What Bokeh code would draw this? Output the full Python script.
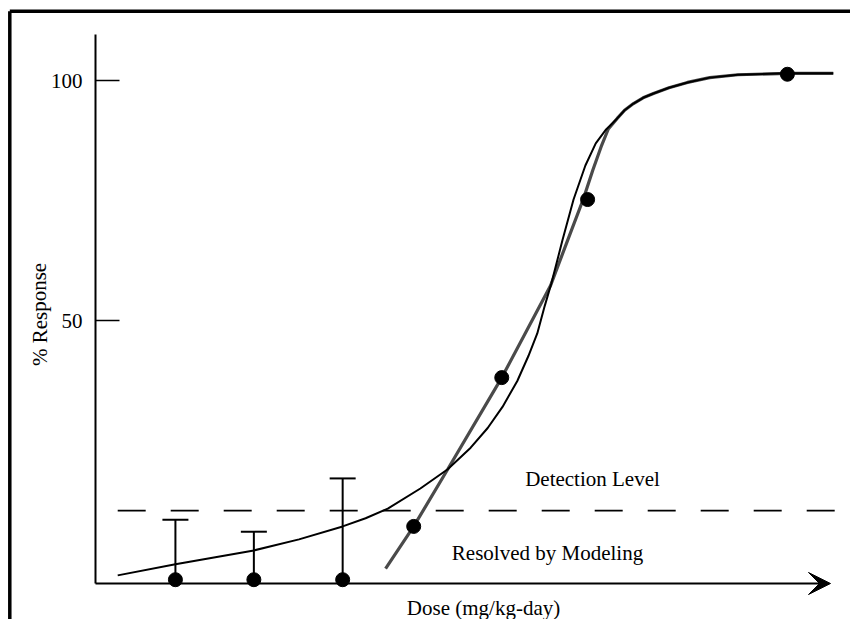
from bokeh.plotting import figure
from bokeh.models import Range1d, Arrow, VeeHead
from bokeh.core.properties import value
from bokeh.embed import file_html
from bokeh.resources import INLINE

# ---------------- data ----------------
dose_points = [10.8, 21.4, 33.4, 43.0, 54.9, 66.5, 93.5]
response_points = [-4.0, -4.0, -4.0, 7.1, 38.1, 75.2, 101.3]

bar_dose = [10.8, 21.4, 33.4]
bar_low = [-4.0, -4.0, -4.0]
bar_high = [8.5, 6.0, 17.1]

curve_dose = [3.0, 10.8, 21.4, 27.5, 33.4, 36.5, 39.5, 43.9, 47.6, 50.7, 53.0,
              55.0, 57.0, 58.5, 59.7, 60.7, 61.6, 63.1, 64.6, 66.2, 67.6, 69.0,
              70.5, 71.5, 72.7, 74.0, 75.4, 77.5, 80.0, 83.0, 86.8, 93.5, 99.7]
curve_resp = [-3.1, -0.8, 2.1, 4.4, 7.1, 8.8, 10.8, 15.0, 19.0, 23.5, 27.6,
              32.0, 37.4, 42.6, 47.3, 53.0, 57.7, 66.7, 75.2, 82.3, 86.9, 89.8,
              92.1, 93.8, 95.2, 96.4, 97.3, 98.5, 99.6, 100.6, 101.2, 101.5, 101.5]

model_dose = [39.2, 43.0, 47.6, 54.9, 61.5, 63.8, 65.9, 67.2, 68.4, 69.3, 70.5,
              71.5, 72.7, 74.0, 75.4, 77.5, 80.0, 83.0, 86.8, 93.5, 99.7]
model_resp = [-1.7, 7.1, 19.0, 38.1, 57.3, 66.7, 75.2, 81.3, 86.5, 89.9, 92.1,
              93.8, 95.2, 96.4, 97.3, 98.5, 99.6, 100.6, 101.2, 101.5, 101.5]

detection_level = 10.4
detection_span = [3.0, 100.0]

y_ticks = [50, 100]
y_tick_labels = ["50", "100"]

x_label = "Dose (mg/kg-day)"
y_label = "% Response"
label_detect = "Detection Level"
label_model = "Resolved by Modeling"

# ---------------- layout ----------------
W, H = 850, 619
PX_PER_X = 7.4      # pixels per dose unit
PX_PER_Y = 4.8      # pixels per % response
X0 = 95             # pixel column of dose 0
Y0 = 560            # pixel row of response 0


def xd(px):  # pixel -> dose units
    return (px - X0) / PX_PER_X


def yd(py):  # pixel -> response units
    return (Y0 - py) / PX_PER_Y


p = figure(width=W, height=H, output_backend="svg", toolbar_location=None,
           x_range=Range1d(xd(0), xd(W)), y_range=Range1d(yd(H), yd(0)),
           x_axis_type=None, y_axis_type=None, min_border=0,
           background_fill_color="white", border_fill_color="white")
p.grid.visible = False
p.outline_line_color = None

FONT = value("Liberation Serif")
FS = "21px"
ax_y = yd(583)

# frame of the figure (top and left edges)
p.line([xd(9.3), xd(W)], [yd(10.8), yd(10.8)], line_color="black", line_width=3.5)
p.line([xd(9.3), xd(9.3)], [yd(10.8), yd(H)], line_color="black", line_width=3.5)

# detection level
p.line(detection_span, [detection_level, detection_level], line_color="black",
       line_width=1.6, line_dash="28 25")

# model line and fitted curve
p.line(model_dose, model_resp, line_color="#4a4a4a", line_width=3.2)
p.line(curve_dose, curve_resp, line_color="black", line_width=2)

# error bars
p.segment(x0=bar_dose, y0=bar_low, x1=bar_dose, y1=bar_high,
          line_color="black", line_width=2)
p.scatter(bar_dose, bar_high, marker="dash", size=26, line_color="black",
          line_width=2)

# data points
p.scatter(dose_points, response_points, size=14, color="black")

# y axis
p.line([0, 0], [ax_y, yd(34)], line_color="black", line_width=2)
p.segment(x0=[0] * len(y_ticks), y0=y_ticks, x1=[xd(X0 + 24)] * len(y_ticks),
          y1=y_ticks, line_color="black", line_width=1.6)
p.text(x=[xd(X0 - 13)] * len(y_ticks), y=y_ticks, text=y_tick_labels,
       text_font=FONT, text_font_size=FS, text_align="right",
       text_baseline="middle", text_color="black")

# x axis with arrow
p.add_layout(Arrow(x_start=0, y_start=ax_y, x_end=xd(830), y_end=ax_y,
                   line_color="black", line_width=2,
                   end=VeeHead(size=22, fill_color="black", line_color="black")))

# labels
p.text(x=[xd(483)], y=[yd(607)], text=[x_label], text_font=FONT,
       text_font_size=FS, text_align="center", text_baseline="middle")
p.text(x=[xd(39)], y=[yd(314)], text=[y_label], text_font=FONT,
       text_font_size=FS, text_align="center", text_baseline="middle",
       angle=1.5708)
p.text(x=[xd(592)], y=[yd(478)], text=[label_detect], text_font=FONT,
       text_font_size=FS, text_align="center", text_baseline="middle")
p.text(x=[xd(547)], y=[yd(552)], text=[label_model], text_font=FONT,
       text_font_size=FS, text_align="center", text_baseline="middle")

open("out.html", "w").write(file_html(p, INLINE))
